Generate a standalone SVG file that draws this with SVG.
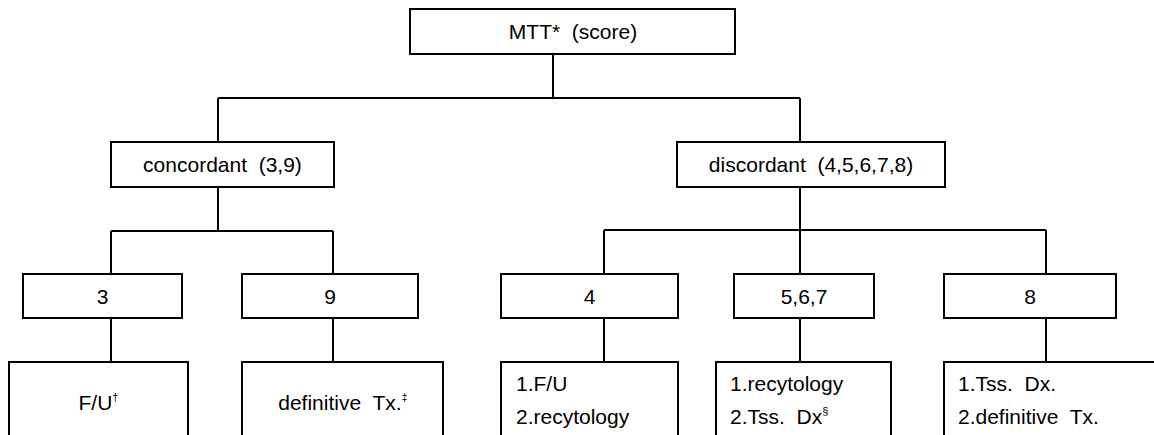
<svg xmlns="http://www.w3.org/2000/svg" width="1154" height="435" viewBox="0 0 1154 435">
<style>
.box{fill:#fff;stroke:#000;stroke-width:2}
.t{font-family:"Liberation Sans",Arial,sans-serif;font-size:21px;fill:#000;white-space:pre}
.c{text-anchor:middle}
.sup{font-size:11px}
#connectors path{fill:none;stroke:#000;stroke-width:2}
</style>
<rect width="1154" height="435" fill="#fff"/>
<g id="connectors">
<path d="M553 54V98M218 98H800M218 98V142M800 98V142"/>
<path d="M218 187V231M111 231H333M111 231V274M333 231V274"/>
<path d="M800 187V230M604 230H1046M604 230V274M800 230V274M1046 230V274"/>
<path d="M111 318V362M333 318V362M604 318V362M800 318V362M1046 318V362"/>
</g>
<g id="n-root"><rect class="box" x="410" y="9" width="325" height="45"/><text class="t c" x="573" y="39">MTT*  (score)</text></g>
<g id="n-concordant"><rect class="box" x="111" y="142" width="223" height="45"/><text class="t c" x="222.5" y="172">concordant  (3,9)</text></g>
<g id="n-discordant"><rect class="box" x="677" y="142" width="268" height="45"/><text class="t c" x="811" y="172">discordant  (4,5,6,7,8)</text></g>
<g id="n-3"><rect class="box" x="23" y="274" width="159" height="44"/><text class="t c" x="102.5" y="304">3</text></g>
<g id="n-9"><rect class="box" x="242" y="274" width="176" height="44"/><text class="t c" x="330" y="304">9</text></g>
<g id="n-4"><rect class="box" x="501" y="274" width="177" height="44"/><text class="t c" x="589.5" y="304">4</text></g>
<g id="n-567"><rect class="box" x="734" y="274" width="140" height="44"/><text class="t c" x="804" y="304">5,6,7</text></g>
<g id="n-8"><rect class="box" x="944" y="274" width="172" height="44"/><text class="t c" x="1030" y="304">8</text></g>
<g id="n-fu"><rect class="box" x="9" y="362" width="179" height="100"/><text class="t c" x="98.5" y="410">F/U<tspan class="sup" dy="-9">†</tspan></text></g>
<g id="n-deftx"><rect class="box" x="242" y="362" width="201" height="100"/><text class="t c" x="343" y="410">definitive  Tx.<tspan class="sup" dy="-9">‡</tspan></text></g>
<g id="n-4r"><rect class="box" x="501" y="362" width="177" height="100"/><text class="t" x="516" y="391">1.F/U</text><text class="t" x="516" y="424">2.recytology</text></g>
<g id="n-567r"><rect class="box" x="716" y="362" width="175" height="100"/><text class="t" x="730" y="391">1.recytology</text><text class="t" x="730" y="424">2.Tss.  Dx<tspan class="sup" dy="-9">§</tspan></text></g>
<g id="n-8r"><rect class="box" x="944" y="362" width="230" height="100"/><text class="t" x="958" y="391">1.Tss.  Dx.</text><text class="t" x="958" y="424">2.definitive  Tx.</text></g>
</svg>
